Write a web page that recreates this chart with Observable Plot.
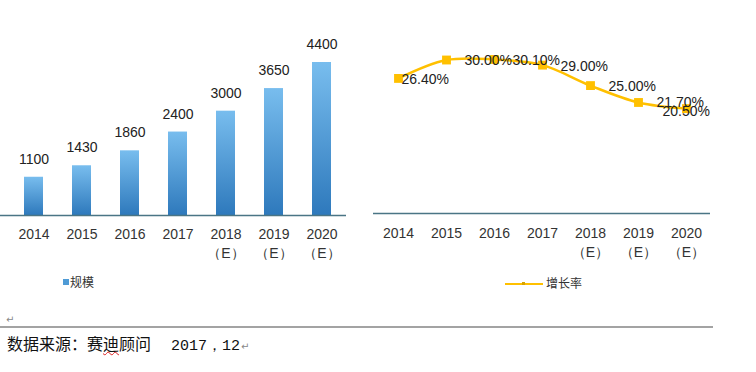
<!DOCTYPE html>
<html>
<head>
<meta charset="utf-8">
<script src="https://cdn.jsdelivr.net/npm/d3@7"></script>
<script src="https://cdn.jsdelivr.net/npm/@observablehq/plot@0.6"></script>
<style>
  html, body { margin: 0; padding: 0; background: #fff; }
  #wrap { position: relative; width: 756px; height: 372px; overflow: hidden; background: #fff; font-family: "Liberation Sans", Arial, sans-serif; }
  .abs { position: absolute; }
  .leg { font-family: "Noto Sans CJK SC", sans-serif; font-size: 12px; color: #333; line-height: 14px; }
  .mark { color: #888; font-family: "DejaVu Sans", sans-serif; font-size: 10px; }
</style>
</head>
<body>
<div id="wrap"></div>
<script>
const categories = ["2014", "2015", "2016", "2017", "2018\n（E）", "2019\n（E）", "2020\n（E）"];
const scaleValues = [1100, 1430, 1860, 2400, 3000, 3650, 4400];
const growthValues = [26.40, 30.00, 30.10, 29.00, 25.00, 21.70, 20.50];
const scaleLabel = "规模";
const growthLabel = "增长率";
const sourceText = "数据来源：赛迪顾问";
const sourceDate = "2017，12";

const bars = categories.map((c, i) => ({cat: c, v: scaleValues[i]}));
const growth = categories.map((c, i) => ({cat: c, v: growthValues[i], i}));

const wrap = document.getElementById("wrap");
const tickColor = "#333";
const axisColor = "#4A7585";
const gold = "#FFC000";

// Left: bar chart
const left = Plot.plot({
  width: 370, height: 260,
  marginLeft: 0, marginRight: 24, marginTop: 62, marginBottom: 45,
  style: {fontFamily: "Liberation Sans, Arial, sans-serif", background: "transparent"},
  x: {type: "band", domain: categories, insetLeft: 10, paddingInner: 0.6, paddingOuter: 0.3, axis: null},
  y: {domain: [0, 4400], axis: null},
  marks: [
    Plot.barY(bars, {x: "cat", y: "v", fill: "url(#barGrad)"}),
    Plot.ruleY([0], {stroke: axisColor, strokeWidth: 1.5}),
    Plot.text(bars, {x: "cat", y: "v", text: d => String(d.v), dy: -18, fontSize: 14, fill: "#222"}),
    Plot.text(categories, {x: d => d, text: d => d, frameAnchor: "bottom", lineAnchor: "top", dy: 11, lineHeight: 1.3, fontSize: 14, fill: tickColor})
  ]
});
const ns = "http://www.w3.org/2000/svg";
const defs = document.createElementNS(ns, "defs");
defs.innerHTML = '<linearGradient id="barGrad" x1="0" y1="0" x2="0" y2="1"><stop offset="0" stop-color="#78BDEE"/><stop offset="1" stop-color="#2E79BC"/></linearGradient>';
left.insertBefore(defs, left.firstChild);
left.classList.add("abs");
left.style.left = "0px"; left.style.top = "0px";
wrap.appendChild(left);

// Right: growth line chart
const labelText = d => d.v.toFixed(2) + "%";
const right = Plot.plot({
  width: 386, height: 260,
  marginLeft: 3, marginRight: 46, marginTop: 59, marginBottom: 47,
  style: {fontFamily: "Liberation Sans, Arial, sans-serif", background: "transparent"},
  x: {type: "band", domain: categories, insetLeft: 1, padding: 0, axis: null},
  y: {domain: [0, 30.1], axis: null},
  marks: [
    Plot.ruleY([0], {stroke: axisColor, strokeWidth: 1.5}),
    Plot.line(growth, {x: "cat", y: "v", stroke: gold, strokeWidth: 2.5, curve: "catmull-rom"}),
    Plot.dot(growth, {x: "cat", y: "v", symbol: "square", r: 5, fill: gold, stroke: "none"}),
    Plot.text(growth.filter(d => d.i === 0), {x: "cat", y: "v", text: labelText, textAnchor: "start", dx: 3, dy: 1, fontSize: 14, fill: "#222"}),
    Plot.text(growth.filter(d => d.i > 0 && d.i < 5), {x: "cat", y: "v", text: labelText, textAnchor: "start", dx: 18, dy: 1, fontSize: 14, fill: "#222"}),
    Plot.text(growth.filter(d => d.i === 5), {x: "cat", y: "v", text: labelText, textAnchor: "start", dx: 18, dy: 0, fontSize: 14, fill: "#222"}),
    Plot.text(growth.filter(d => d.i === 6), {x: "cat", y: "v", text: labelText, textAnchor: "start", dx: -24, dy: 3, fontSize: 14, fill: "#222"}),
    Plot.text(categories, {x: d => d, text: d => d, frameAnchor: "bottom", lineAnchor: "top", dy: 12, lineHeight: 1.3, fontSize: 14, fill: tickColor})
  ]
});
right.classList.add("abs");
right.style.left = "370px"; right.style.top = "0px";
wrap.appendChild(right);

// Legends
function add(html, style, cls) {
  const el = document.createElement("div");
  el.className = "abs " + (cls || "");
  Object.assign(el.style, style);
  el.innerHTML = html;
  wrap.appendChild(el);
  return el;
}
add("", {left: "63px", top: "279px", width: "6px", height: "6px", background: "#4F9BD6"});
add(scaleLabel, {left: "70px", top: "275px"}, "leg");
add("", {left: "505px", top: "283px", width: "38px", height: "2px", background: gold});
add("", {left: "522px", top: "282px", width: "3px", height: "3px", background: "#D9A400"});
add(growthLabel, {left: "546px", top: "276px"}, "leg");

// Footer
add("↵", {left: "6px", top: "314px"}, "mark");
add("", {left: "0px", top: "326px", width: "713px", height: "2px", background: "#A3A3A3"});
add('<span style="font-family:\'Noto Sans CJK SC\',sans-serif;font-size:16px;color:#111;">' +
    sourceText.replace("迪", '<span style="text-decoration:underline wavy #d22;text-decoration-thickness:1px;">迪</span>') +
    '</span><span style="font-family:\'Liberation Mono\',monospace;font-size:15px;color:#111;margin-left:20px;">' + sourceDate +
    '</span><span class="mark" style="margin-left:1px;">↵</span>',
    {left: "7px", top: "333px", whiteSpace: "nowrap", lineHeight: "20px"});
</script>
</body>
</html>
